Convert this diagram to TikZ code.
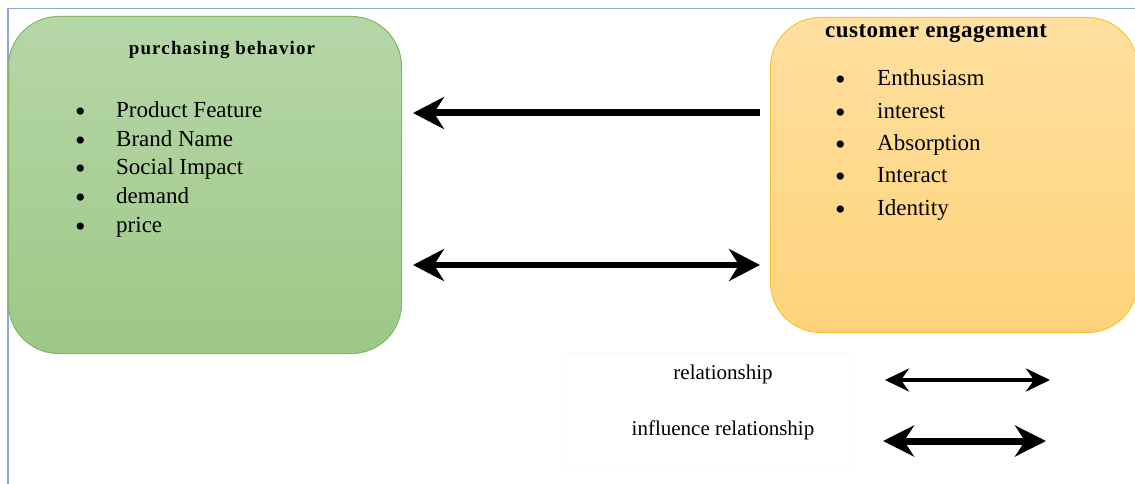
\documentclass[tikz,border=0pt]{standalone}
\usepackage{fontspec}
\setmainfont{Liberation Serif}
\usetikzlibrary{arrows.meta}
\definecolor{frameblue}{RGB}{140,168,218}
\definecolor{gtop}{RGB}{182,215,168}
\definecolor{gbot}{RGB}{157,200,134}
\definecolor{gedge}{RGB}{130,182,100}
\definecolor{otop}{RGB}{255,224,160}
\definecolor{obot}{RGB}{255,211,122}
\definecolor{oedge}{RGB}{250,195,50}
\tikzset{
  gbox/.style={draw=gedge, line width=1pt, rounded corners=50pt, top color=gtop, bottom color=gbot, inner sep=0pt},
  obox/.style={draw=oedge, line width=1pt, rounded corners=50pt, top color=otop, bottom color=obot, inner sep=0pt},
  titlea/.style={font=\fontsize{19}{22}\selectfont\bfseries\addfontfeatures{LetterSpace=6}, inner sep=0pt},
  titleb/.style={font=\fontsize{23}{26}\selectfont\bfseries\addfontfeatures{LetterSpace=2}, inner sep=0pt},
  item/.style={font=\fontsize{23}{26}\selectfont, inner sep=0pt, anchor=base west},
  legtext/.style={font=\fontsize{21}{24}\selectfont, inner sep=0pt, anchor=base},
  legbox/.style={draw=black!2.5, fill=white, inner sep=0pt},
  bigarrow/.style={line width=7pt, -{Stealth[length=31pt, width=32pt, inset=10pt]}},
  bigdarrow/.style={line width=6.5pt, {Stealth[length=31pt, width=32pt, inset=10pt]}-{Stealth[length=31pt, width=32pt, inset=10pt]}},
  relarrow/.style={line width=4.5pt, {Stealth[length=24pt, width=23pt, inset=8pt]}-{Stealth[length=24pt, width=23pt, inset=8pt]}},
  inflarrow/.style={line width=7pt, {Stealth[length=31pt, width=31pt, inset=10pt]}-{Stealth[length=31pt, width=31pt, inset=10pt]}},
}
\newcommand{\bigblt}{\raisebox{-4pt}{\fontsize{30}{30}\selectfont\kern-5pt•}}
\newcommand{\blt}[1]{\makebox[36pt][l]{\bigblt}#1}
\newcommand{\rblt}[1]{\makebox[37pt][l]{\bigblt}#1}
\begin{document}
\begin{tikzpicture}[x=1pt,y=-1pt]
\useasboundingbox (0,0) rectangle (1135,484);
\draw[frameblue, line width=1.3pt] (8,484) -- (8,8.5) -- (1135,8.5);

\node[gbox, minimum width=393pt, minimum height=337pt, anchor=north west] (pb) at (8,16) {};
\node[obox, minimum width=367pt, minimum height=315pt, anchor=north west] (ce) at (770,17) {};

\node[titlea, anchor=base] (pbt) at (222,55) {purchasing behavior};
\node[titleb, anchor=base west] (cet) at (825,38) {customer engagement};

\node[item] (l1) at (80,118) {\blt{Product Feature}};
\node[item] (l2) at (80,146.5) {\blt{Brand Name}};
\node[item] (l3) at (80,175) {\blt{Social Impact}};
\node[item] (l4) at (80,203.5) {\blt{demand}};
\node[item] (l5) at (80,232) {\blt{price}};

\node[item] (r1) at (840,86) {\rblt{Enthusiasm}};
\node[item] (r2) at (840,118.3) {\rblt{interest}};
\node[item] (r3) at (840,150.6) {\rblt{Absorption}};
\node[item] (r4) at (840,182.9) {\rblt{Interact}};
\node[item] (r5) at (840,215.2) {\rblt{Identity}};

\draw[bigarrow, shorten <=10pt, shorten >=11pt] (ce.west |- 0,113) -- (pb.east |- 0,113);
\draw[bigdarrow, shorten <=11pt, shorten >=10pt] (pb.east |- 0,265) -- (ce.west |- 0,265);

\node[legbox, minimum width=288pt, minimum height=115pt] (lg) at (709,410.5) {};
\node[legtext] (rel) at (723,379) {relationship};
\node[legtext] (infl) at (723,435) {influence relationship};
\coordinate (ra) at (885,380);
\coordinate (rb) at (1050,380);
\coordinate (ia) at (883,441);
\coordinate (ib) at (1046,441);
\draw[relarrow] (ra) -- (rb);
\draw[inflarrow] (ia) -- (ib);
\end{tikzpicture}
\end{document}
